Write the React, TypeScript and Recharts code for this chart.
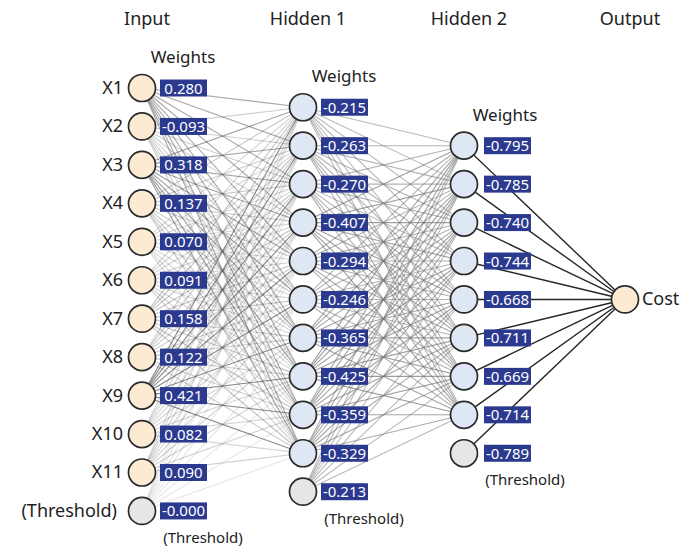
import { ScatterChart, Scatter, XAxis, YAxis, ReferenceLine } from 'recharts';

const layerTitles = ['Input', 'Hidden 1', 'Hidden 2', 'Output'];
const inputNames = ['X1', 'X2', 'X3', 'X4', 'X5', 'X6', 'X7', 'X8', 'X9', 'X10', 'X11', '(Threshold)'];
const inputWeights = [0.28, -0.093, 0.318, 0.137, 0.07, 0.091, 0.158, 0.122, 0.421, 0.082, 0.09, -0.0];
const hidden1Weights = [-0.215, -0.263, -0.27, -0.407, -0.294, -0.246, -0.365, -0.425, -0.359, -0.329, -0.213];
const hidden2Weights = [-0.795, -0.785, -0.74, -0.744, -0.668, -0.711, -0.669, -0.714, -0.789];
const outputNames = ['Cost'];

const FONT = "'Noto Sans', 'Open Sans', sans-serif";
const SLOTS = 12;

type Node = {
  x: number;
  y: number;
  layer: number;
  index: number;
  name?: string;
  weight?: number;
  threshold: boolean;
};

const buildLayer = (layer: number, count: number, weights?: number[], names?: string[]): Node[] => {
  const start = (SLOTS - count) / 2;
  return Array.from({ length: count }, (_, i) => ({
    x: layer,
    y: start + i,
    layer,
    index: i,
    name: names ? names[i] : undefined,
    weight: weights ? weights[i] : undefined,
    threshold: layer < 3 && i === count - 1,
  }));
};

const layers: Node[][] = [
  buildLayer(0, inputWeights.length, inputWeights, inputNames),
  buildLayer(1, hidden1Weights.length, hidden1Weights),
  buildLayer(2, hidden2Weights.length, hidden2Weights),
  buildLayer(3, outputNames.length, undefined, outputNames),
];

const edges: { from: Node; to: Node }[] = [];
for (let l = 0; l < layers.length - 1; l++) {
  layers[l].forEach((from) => {
    layers[l + 1].filter((n) => !n.threshold).forEach((to) => edges.push({ from, to }));
  });
}

// darker lines for stronger source weights
const edgeStyle = (e: { from: Node; to: Node }) => {
  const w = Math.abs(e.from.weight ?? 0);
  if (e.from.layer === 0) return { stroke: '#555', strokeOpacity: 0.15 + 1.3 * w, strokeWidth: 1.1 };
  if (e.from.layer === 1) return { stroke: '#777', strokeOpacity: 0.3 + w, strokeWidth: 1.1 };
  return { stroke: '#1a1a1a', strokeOpacity: 0.95, strokeWidth: 1.4 };
};

const titleData = layerTitles.map((title, i) => ({ x: i, y: -1.82, title }));

const NodeShape = (props: any) => {
  const { cx, cy, payload } = props;
  const n = payload as Node;
  let fill = '#dfe6f4';
  if (n.threshold) fill = '#e6e6e6';
  else if (n.layer === 0 || n.layer === 3) fill = '#fcebd2';
  const boxX = n.layer === 2 ? cx + 20 : cx + 18;
  return (
    <g>
      <circle cx={cx} cy={cy} r={13.5} fill={fill} stroke="#2a2a2a" strokeWidth={1.7} />
      {n.weight !== undefined && (
        <g>
          <rect x={boxX} y={cy - 8.5} width={47} height={17} fill="#2b3a8f" />
          <text x={boxX + 23.5} y={cy + 5.5} fill="#fff" fontSize={15} fontFamily={FONT} textAnchor="middle">
            {n.weight === 0 ? '-0.000' : n.weight.toFixed(3)}
          </text>
        </g>
      )}
      {n.layer === 0 && (
        <text
          x={n.threshold ? cx - 25 : cx - 19}
          y={cy + 6}
          fontSize={18}
          fontFamily={FONT}
          fill="#222"
          textAnchor="end"
        >
          {n.name}
        </text>
      )}
      {n.layer === 3 && (
        <text x={cx + 17} y={cy + 6} fontSize={18} fontFamily={FONT} fill="#222">
          {n.name}
        </text>
      )}
      {n.index === 0 && n.layer < 3 && (
        <text x={cx + 41} y={cy - 25} fontSize={17} fontFamily={FONT} fill="#222" textAnchor="middle">
          Weights
        </text>
      )}
      {n.threshold && (
        <text x={cx + 61} y={cy + 32} fontSize={15} fontFamily={FONT} fill="#222" textAnchor="middle">
          (Threshold)
        </text>
      )}
    </g>
  );
};

const TitleShape = (props: any) => (
  <text x={props.cx + 5} y={props.cy + 7} fontSize={18} fontFamily={FONT} fill="#222" textAnchor="middle">
    {props.payload.title}
  </text>
);

export default function App() {
  return (
    <div style={{ position: 'absolute', left: 0, top: 0, background: '#fff' }}>
      <ScatterChart width={681} height={549} margin={{ top: 0, right: 0, bottom: 0, left: 0 }}>
        <XAxis type="number" dataKey="x" domain={[-0.882, 3.348]} hide allowDataOverflow />
        <YAxis type="number" dataKey="y" domain={[-2.289, 11.99]} reversed hide allowDataOverflow />
        {edges.map((e, i) => (
          <ReferenceLine
            key={`edge-${i}`}
            segment={[
              { x: e.from.x, y: e.from.y },
              { x: e.to.x, y: e.to.y },
            ]}
            ifOverflow="visible"
            {...edgeStyle(e)}
          />
        ))}
        {layers.map((nodes, l) => (
          <Scatter key={`layer-${l}`} data={nodes} shape={NodeShape} isAnimationActive={false} />
        ))}
        <Scatter data={titleData} shape={TitleShape} isAnimationActive={false} />
      </ScatterChart>
    </div>
  );
}
